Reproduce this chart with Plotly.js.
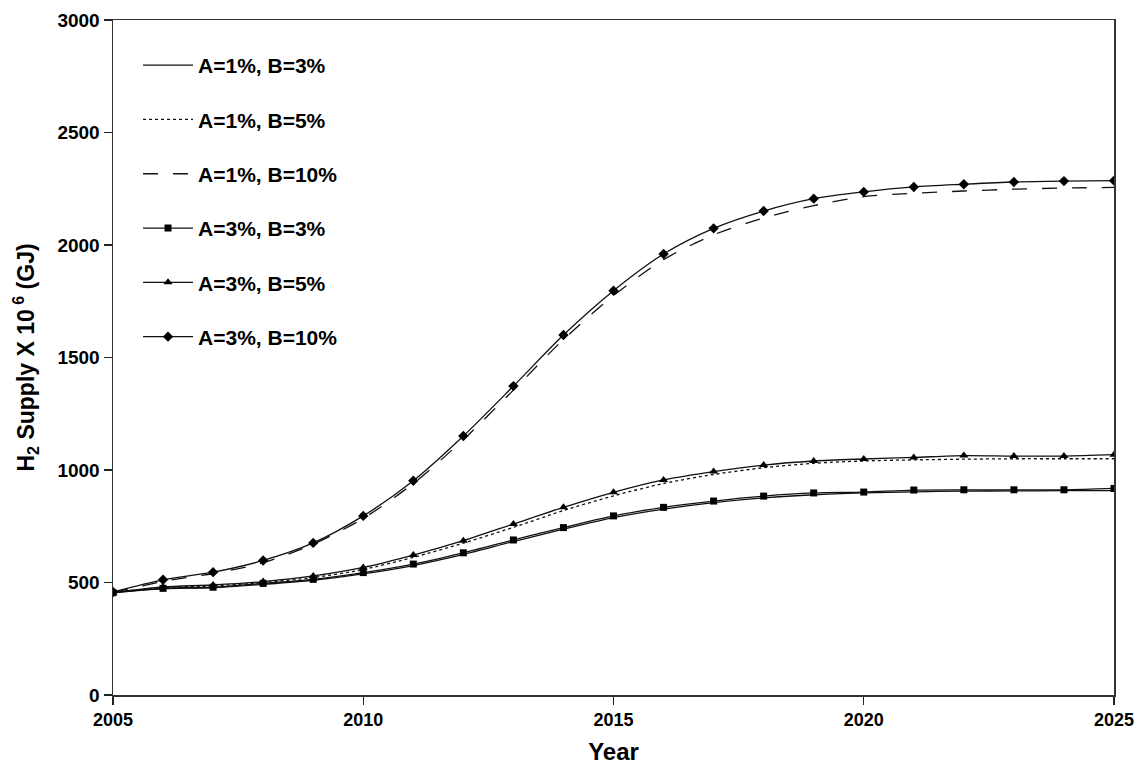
<!DOCTYPE html>
<html>
<head>
<meta charset="utf-8">
<script src="https://cdn.plot.ly/plotly-3.0.1.min.js"></script>
<style>html,body{margin:0;padding:0;background:#fff;}#chart{width:1140px;height:769px;}</style>
</head>
<body>
<div id="chart"></div>
<script>
const years = [2005,2006,2007,2008,2009,2010,2011,2012,2013,2014,2015,2016,2017,2018,2019,2020,2021,2022,2023,2024,2025];

const a1b3  = [455,472,477,492,510,538,575,625,682,737,788,826,855,876,890,898,903,906,907,908,908];
const a1b5  = [455,478,485,500,522,558,612,675,745,820,885,940,980,1010,1030,1040,1045,1048,1050,1050,1050];
const a1b10 = [455,505,540,588,670,785,940,1135,1355,1580,1775,1935,2045,2120,2175,2215,2230,2240,2248,2253,2256];
const a3b3  = [455,474,479,496,514,544,582,632,689,744,796,834,862,884,898,902,911,912,912,912,918];
const a3b5  = [455,480,489,504,529,567,622,686,760,834,901,956,993,1022,1040,1049,1056,1064,1062,1062,1068];
const a3b10 = [458,512,546,598,676,796,952,1151,1373,1600,1797,1960,2074,2151,2206,2236,2258,2270,2280,2284,2286];

const names = ["A=1%, B=3%","A=1%, B=5%","A=1%, B=10%","A=3%, B=3%","A=3%, B=5%","A=3%, B=10%"];
const series = [a1b3,a1b5,a1b10,a3b3,a3b5,a3b10];
const dashes = ["solid","dot","longdash","solid","solid","solid"];
const symbols = [null,null,null,"square","triangle-up","diamond"];
const msizes = [0,0,0,7,8,8];

const traces = series.map((ys,i)=>{
  const t = {
    x: years, y: ys, name: names[i], type: "scatter",
    mode: symbols[i] ? "lines+markers" : "lines",
    line: {color: "#111", width: 1.3, dash: dashes[i], shape: "spline", smoothing: 0.8},
    legendgroup: "g"+i
  };
  if (symbols[i]) t.marker = {symbol: symbols[i], size: msizes[i], color: "#000"};
  return t;
});

const layout = {
  width: 1140, height: 769,
  margin: {l: 113, r: 26, t: 20, b: 74},
  paper_bgcolor: "#fff", plot_bgcolor: "#fff",
  font: {family: "Liberation Sans, Arial, sans-serif", color: "#000"},
  showlegend: true,
  legend: {
    x: 0.025, y: 0.963, xanchor: "left", yanchor: "top",
    bgcolor: "rgba(0,0,0,0)", borderwidth: 0,
    font: {size: 21, family: "Liberation Sans, Arial, sans-serif", weight: "bold"},
    tracegroupgap: 24, itemwidth: 50
  },
  xaxis: {
    range: [2005, 2025], tickvals: [2005,2010,2015,2020,2025],
    ticks: "outside", ticklen: 8, tickwidth: 1.3, tickcolor: "#222",
    showline: true, linecolor: "#333", linewidth: 1.5, mirror: true,
    showgrid: false, zeroline: false,
    tickfont: {size: 18, weight: "bold"},
    title: {text: "Year", font: {size: 24, weight: "bold"}, standoff: 14}
  },
  yaxis: {
    range: [0, 3000], tickvals: [0,500,1000,1500,2000,2500,3000],
    ticks: "outside", ticklen: 8, tickwidth: 1.3, tickcolor: "#222",
    showline: true, linecolor: "#333", linewidth: 1.5, mirror: true,
    showgrid: false, zeroline: false,
    tickfont: {size: 19, weight: "bold"},
    title: {text: "H<sub>2</sub> Supply X 10<sup> 6</sup> (GJ)", font: {size: 23, weight: "bold"}, standoff: 16}
  }
};

Plotly.newPlot("chart", traces, layout, {displayModeBar: false, staticPlot: true});
</script>
</body>
</html>
